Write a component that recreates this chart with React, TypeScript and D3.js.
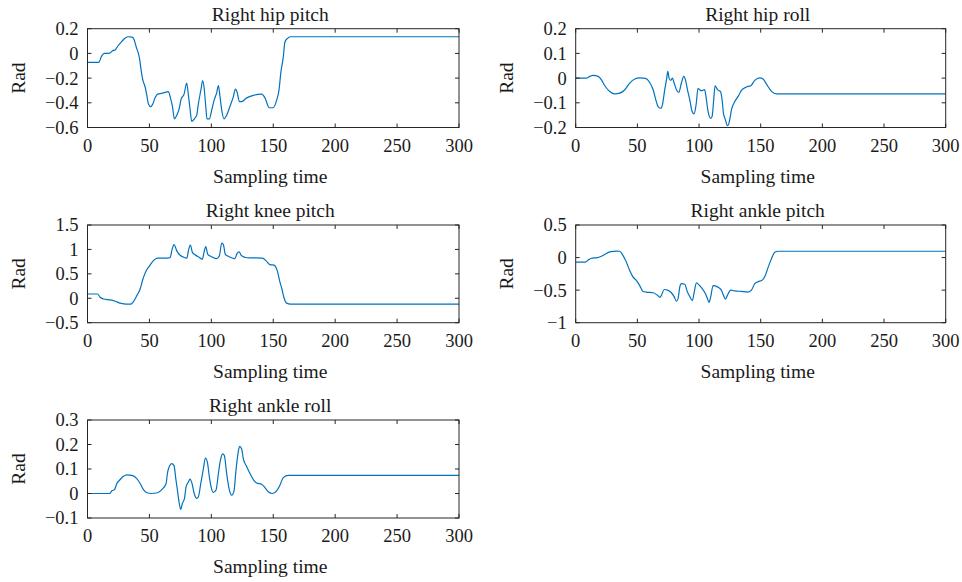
import React from "react";
import * as d3 from "d3";

// sampling time / rad pairs
const hipPitch: [number, number][] = [
  [0, -0.073], [9, -0.073], [11.5, -0.02], [13.5, 0], [18, 0.002], [20, 0.02], [22.5, 0.03],
  [24.5, 0.06], [27.5, 0.095], [30.5, 0.125], [33, 0.135], [36, 0.132], [37.5, 0.115],
  [39.3, 0.054], [42, -0.04], [43.3, -0.135], [44.7, -0.216], [46.5, -0.27], [47.9, -0.338],
  [49.2, -0.41], [51, -0.432], [52.7, -0.41], [54.6, -0.36], [56.5, -0.33], [61.3, -0.32],
  [65.4, -0.31], [66.7, -0.35], [68.6, -0.43], [70.2, -0.53], [72.1, -0.5], [74, -0.45],
  [75.6, -0.37], [78, -0.33], [80.1, -0.24], [81.5, -0.34], [82.8, -0.45], [84.2, -0.55],
  [86.3, -0.53], [88.2, -0.5], [89.5, -0.41], [91.5, -0.3], [93, -0.22], [94.4, -0.3],
  [95.5, -0.43], [96.5, -0.53], [98.4, -0.53], [100.3, -0.46], [102.2, -0.38], [104.3, -0.32],
  [105.7, -0.26], [107, -0.35], [108.4, -0.46], [110.2, -0.53], [112.4, -0.5], [115, -0.43],
  [117.8, -0.35], [119.4, -0.29], [121, -0.32], [122.6, -0.39], [124.5, -0.39], [128.6, -0.36],
  [133.9, -0.34], [140.6, -0.33], [143.3, -0.36], [146.8, -0.44], [150, -0.44], [152.7, -0.38],
  [154.6, -0.3], [156.2, -0.15], [158.1, -0.03], [159.4, 0.09], [161.3, 0.12], [164, 0.135],
  [300, 0.135],
];

const hipRoll: [number, number][] = [
  [0, 0], [8.7, 0], [11.4, 0.007], [14.1, 0.011], [18.2, 0.007], [20.9, -0.007], [23.6, -0.031],
  [27.6, -0.054], [31.7, -0.064], [35.7, -0.061], [39.8, -0.047], [43.8, -0.02], [47.9, -0.004],
  [51.9, 0.001], [56.5, -0.001], [60, -0.018], [62.8, -0.047], [64.6, -0.081], [66.8, -0.115],
  [69, -0.122], [70.3, -0.108], [72.2, -0.047], [73.6, -0.007], [74.7, 0.027], [75.7, 0],
  [77.1, -0.009], [78.4, 0], [79.8, -0.02], [81.7, -0.047], [83.6, -0.058], [85.7, -0.02],
  [87.6, 0.007], [89, -0.007], [90.6, -0.047], [92.5, -0.088], [94.4, -0.135], [96, -0.145],
  [97.6, -0.108], [99.2, -0.041], [100.5, -0.047], [101.9, -0.051], [104.5, -0.047],
  [106, -0.088], [107.3, -0.135], [109.5, -0.163], [110.6, -0.155], [111.9, -0.088],
  [113, -0.031], [114.9, -0.047], [117.3, -0.054], [118.7, -0.088], [119.8, -0.142],
  [121.4, -0.169], [123, -0.193], [124.6, -0.176], [126.3, -0.128], [129, -0.095],
  [131.7, -0.074], [134.4, -0.05], [138.4, -0.036], [142, -0.031], [145.2, -0.009],
  [149.2, 0.001], [151.9, -0.004], [155.5, -0.031], [158.8, -0.054], [162.8, -0.064],
  [300, -0.064],
];

const kneePitch: [number, number][] = [
  [0, 0.088], [8.1, 0.088], [10.2, 0.02], [12.9, -0.014], [18.3, -0.034], [22.3, -0.061],
  [26.4, -0.1], [31.7, -0.12], [35, -0.12], [37.1, -0.068], [39.8, 0.054], [42.5, 0.19],
  [44.7, 0.39], [47.3, 0.56], [50, 0.66], [53.2, 0.77], [56.5, 0.82], [62.7, 0.82],
  [66.7, 0.83], [68.3, 1.0], [69.9, 1.1], [72.1, 0.97], [74.8, 0.88], [78.8, 0.83],
  [80.2, 0.82], [81.7, 1.0], [83.1, 1.09], [84.7, 0.94], [86.8, 0.89], [89.5, 0.85],
  [92.7, 0.8], [94.1, 0.94], [95.5, 1.06], [97.1, 0.9], [100.3, 0.85], [104.3, 0.81],
  [106.5, 0.87], [108.4, 1.13], [109.7, 1.1], [111.3, 0.9], [114.5, 0.85], [119, 0.81],
  [120.8, 0.92], [122.4, 0.95], [124.5, 0.87], [128.5, 0.83], [141.4, 0.82], [144.1, 0.77],
  [147.3, 0.69], [150.6, 0.68], [153.3, 0.56], [155.4, 0.33], [157, 0.19], [158.8, 0],
  [160.8, -0.1], [164, -0.12], [300, -0.12],
];

const anklePitch: [number, number][] = [
  [0, -0.07], [7.9, -0.07], [10.6, -0.03], [12.8, -0.01], [17.6, 0], [20.9, 0.02],
  [24.1, 0.056], [28.4, 0.09], [33, 0.1], [35.7, 0.097], [38.4, 0.03], [41.1, -0.07],
  [43.8, -0.2], [46.5, -0.3], [49.2, -0.35], [51.9, -0.43], [54.6, -0.52], [57.3, -0.53],
  [62.8, -0.54], [66.3, -0.58], [68.2, -0.61], [69.5, -0.58], [71.7, -0.49], [74.4, -0.5],
  [77.6, -0.54], [79.8, -0.6], [81.7, -0.67], [83, -0.63], [84.4, -0.45], [85.7, -0.4],
  [88.4, -0.41], [90.6, -0.53], [92.5, -0.6], [94.6, -0.66], [96, -0.54], [97.9, -0.39],
  [100, -0.42], [102.7, -0.48], [105.1, -0.55], [106.8, -0.63], [108.1, -0.69], [109.5, -0.6],
  [111.4, -0.43], [114.9, -0.45], [118.1, -0.5], [119.8, -0.58], [121.4, -0.64], [123, -0.58],
  [125.7, -0.5], [128.9, -0.51], [134.3, -0.52], [139.7, -0.53], [142.5, -0.5], [145.2, -0.4],
  [147.9, -0.37], [151.1, -0.35], [153.8, -0.27], [156, -0.15], [158.7, -0.02], [161.4, 0.08],
  [164.1, 0.097], [300, 0.097],
];

const ankleRoll: [number, number][] = [
  [0, 0], [17.8, 0], [19.7, 0.011], [21.8, 0.016], [23.7, 0.041], [26.4, 0.057], [29.1, 0.07],
  [31.7, 0.076], [35.8, 0.074], [39.8, 0.061], [42.5, 0.041], [45.2, 0.016], [47.9, 0.003],
  [51.9, 0], [56.5, 0.003], [60, 0.016], [63.5, 0.041], [64.5, 0.081], [66.2, 0.111],
  [68, 0.122], [69.9, 0.114], [71.3, 0.061], [72.6, 0.014], [73.9, -0.034], [75.3, -0.065],
  [76.6, -0.041], [78.3, -0.02], [79.6, 0.027], [81.5, 0.047], [82.8, 0.059], [84.4, 0.041],
  [86, 0.003], [88.2, -0.02], [89.5, -0.014], [91.5, 0.041], [93.6, 0.101], [95.2, 0.145],
  [96.8, 0.128], [98.4, 0.068], [99.8, 0.027], [101.7, 0.004], [103.8, 0.014], [105.7, 0.081],
  [107.6, 0.142], [109.2, 0.162], [110.5, 0.155], [112.4, 0.081], [114.3, 0.02],
  [116.4, -0.007], [118.3, 0.011], [119.9, 0.095], [121.5, 0.162], [122.8, 0.192],
  [124.5, 0.182], [125.8, 0.142], [128, 0.115], [130.6, 0.088], [133.9, 0.057],
  [136.6, 0.043], [140.6, 0.038], [143.3, 0.024], [146, 0.007], [149.5, 0], [152.7, 0.011],
  [155.4, 0.034], [158.1, 0.065], [162.1, 0.074], [300, 0.074],
];

const xTicks = [0, 50, 100, 150, 200, 250, 300];
const hipPitchTicks = [-0.6, -0.4, -0.2, 0, 0.2];
const hipRollTicks = [-0.2, -0.1, 0, 0.1, 0.2];
const kneePitchTicks = [-0.5, 0, 0.5, 1, 1.5];
const anklePitchTicks = [-1, -0.5, 0, 0.5];
const ankleRollTicks = [-0.1, 0, 0.1, 0.2, 0.3];

const titles = ["Right hip pitch", "Right hip roll", "Right knee pitch", "Right ankle pitch", "Right ankle roll"];

const cols = [[87.5, 459], [575.7, 945.7]];
const rows = [[28.7, 127.5], [225, 322.7], [420, 518]];

const FONT = "'Liberation Serif', 'DejaVu Serif', serif";
const AXIS = "#262626";
const LINE = "#0072BD";

const fmt = (v: number) => String(+v.toFixed(2)).replace("-", "\u2212");

function Panel({ title, data, yTicks, col, row }: any) {
  const [x0, x1] = cols[col];
  const [y0, y1] = rows[row];
  const x = d3.scaleLinear().domain([0, 300]).range([x0, x1]);
  const y = d3.scaleLinear().domain([yTicks[0], yTicks[yTicks.length - 1]]).range([y1, y0]);
  const line = d3
    .line<[number, number]>()
    .x(d => x(d[0]))
    .y(d => y(d[1]))
    .curve(d3.curveMonotoneX);
  const tl = 4;
  return (
    <g>
      <path d={line(data) || ""} fill="none" stroke={LINE} strokeWidth={1.2} strokeLinejoin="round" />
      <rect x={x0} y={y0} width={x1 - x0} height={y1 - y0} fill="none" stroke={AXIS} strokeWidth={1} />
      {xTicks.map(t => (
        <g key={"x" + t}>
          <line x1={x(t)} x2={x(t)} y1={y1} y2={y1 - tl} stroke={AXIS} />
          <line x1={x(t)} x2={x(t)} y1={y0} y2={y0 + tl} stroke={AXIS} />
          <text x={x(t)} y={y1 + 24} textAnchor="middle" fontSize={18.5} fill="#1a1a1a">
            {t}
          </text>
        </g>
      ))}
      {yTicks.map((t: number) => (
        <g key={"y" + t}>
          <line x1={x0} x2={x0 + tl} y1={y(t)} y2={y(t)} stroke={AXIS} />
          <line x1={x1} x2={x1 - tl} y1={y(t)} y2={y(t)} stroke={AXIS} />
          <text x={x0 - 9} y={y(t)} dy="0.35em" textAnchor="end" fontSize={18.5} fill="#1a1a1a">
            {fmt(t)}
          </text>
        </g>
      ))}
      <text x={(x0 + x1) / 2 - 3} y={y0 - 8} textAnchor="middle" fontSize={19.5} fill="#1a1a1a">
        {title}
      </text>
      <text x={(x0 + x1) / 2 - 3} y={y1 + 55} textAnchor="middle" fontSize={19.5} fill="#1a1a1a">
        Sampling time
      </text>
      <text
        transform={`translate(${x0 - 62.5},${(y0 + y1) / 2}) rotate(-90)`}
        textAnchor="middle"
        fontSize={19.5}
        fill="#1a1a1a"
      >
        Rad
      </text>
    </g>
  );
}

export default function App() {
  const panels = [
    { data: hipPitch, ticks: hipPitchTicks, col: 0, row: 0 },
    { data: hipRoll, ticks: hipRollTicks, col: 1, row: 0 },
    { data: kneePitch, ticks: kneePitchTicks, col: 0, row: 1 },
    { data: anklePitch, ticks: anklePitchTicks, col: 1, row: 1 },
    { data: ankleRoll, ticks: ankleRollTicks, col: 0, row: 2 },
  ];
  return (
    <svg
      width={962}
      height={582}
      style={{ position: "absolute", left: 0, top: 0, background: "#fff" }}
      fontFamily={FONT}
    >
      {panels.map((p, i) => (
        <Panel key={i} title={titles[i]} data={p.data} yTicks={p.ticks} col={p.col} row={p.row} />
      ))}
    </svg>
  );
}
